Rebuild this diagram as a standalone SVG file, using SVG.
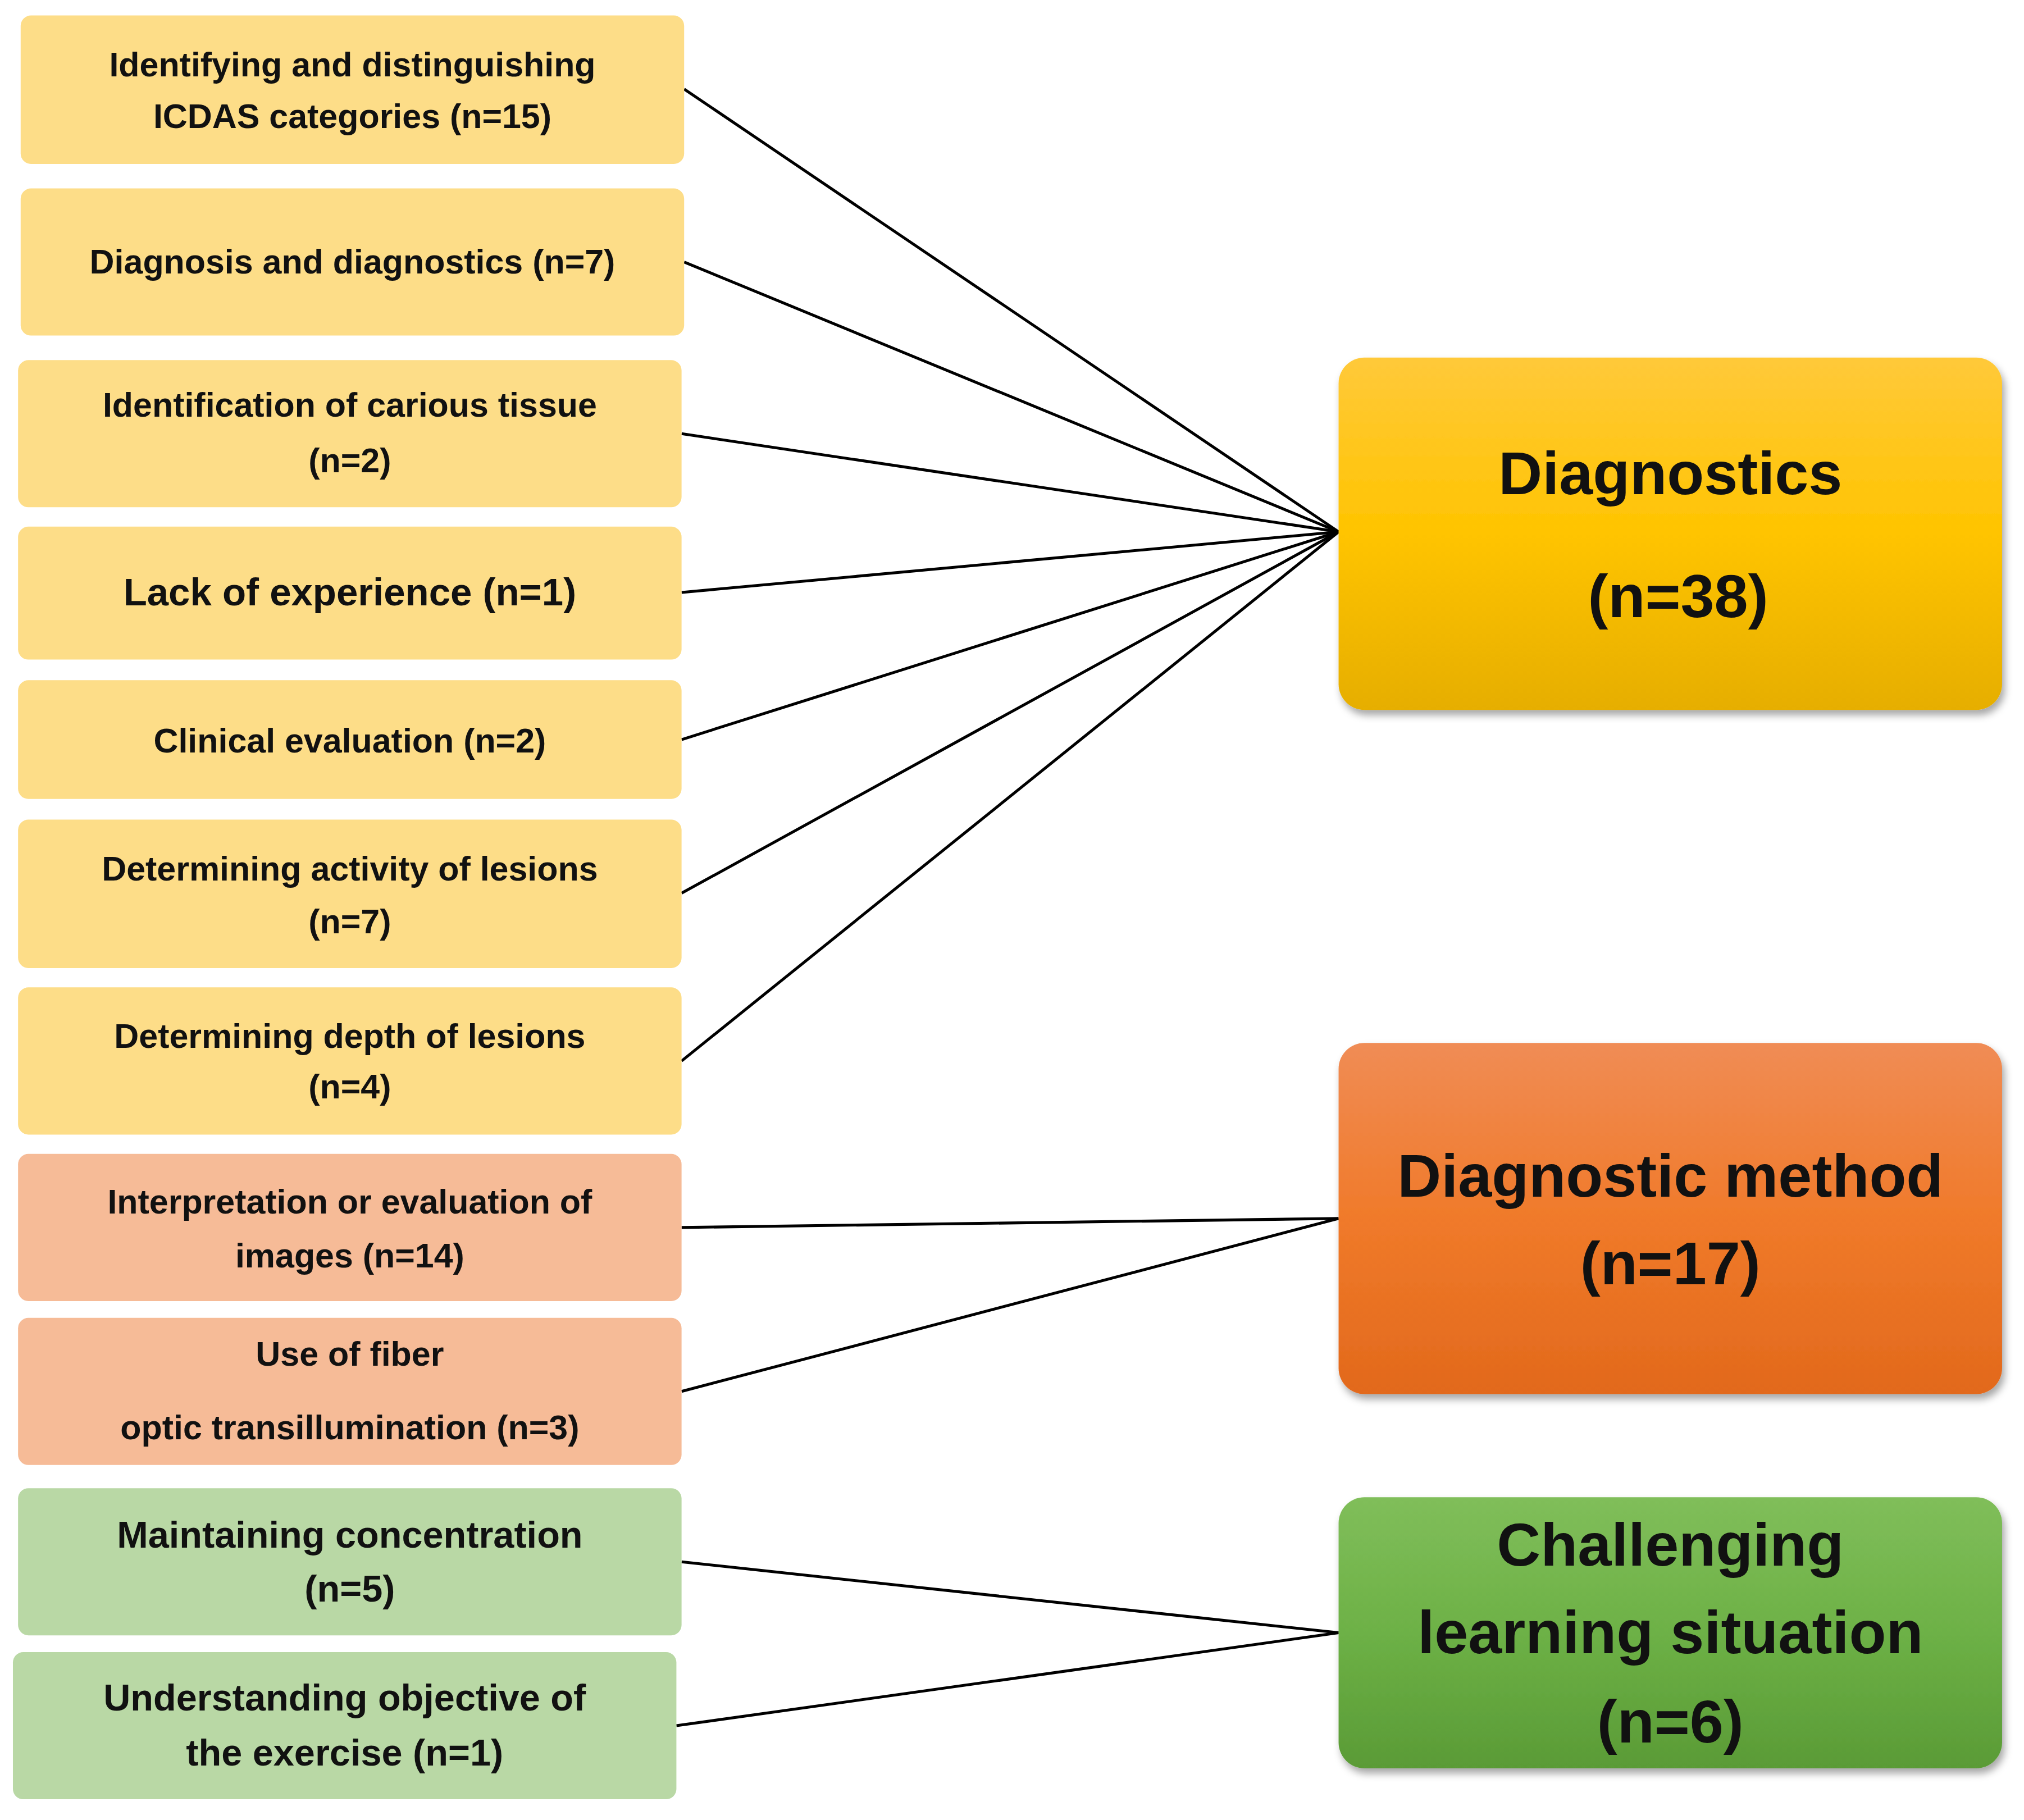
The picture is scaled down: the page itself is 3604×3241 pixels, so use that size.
<svg xmlns="http://www.w3.org/2000/svg" width="3604" height="3241" viewBox="0 0 3604 3241">
<style>
.y{fill:#FDDD88}.s{fill:#F6BB97}.g{fill:#B9D8A5}
.t{font-family:"Liberation Sans",Arial,sans-serif;font-weight:bold;font-size:26.5px;fill:#111;text-anchor:middle}
.b{font-family:"Liberation Sans",Arial,sans-serif;font-weight:bold;font-size:47px;fill:#111;text-anchor:middle}
.c line{stroke:#000;stroke-width:2.2}
</style>
<defs>
<linearGradient id="gy" x1="0" y1="0" x2="0" y2="1"><stop offset="0" stop-color="#FFC93A"/><stop offset="0.5" stop-color="#FFC400"/><stop offset="1" stop-color="#E6AE00"/></linearGradient>
<linearGradient id="go" x1="0" y1="0" x2="0" y2="1"><stop offset="0" stop-color="#F08C55"/><stop offset="0.5" stop-color="#F07A2A"/><stop offset="1" stop-color="#E2691C"/></linearGradient>
<linearGradient id="gg" x1="0" y1="0" x2="0" y2="1"><stop offset="0" stop-color="#80BE5A"/><stop offset="0.5" stop-color="#6DB146"/><stop offset="1" stop-color="#5A9B36"/></linearGradient>
<filter id="sh" x="-10%" y="-10%" width="120%" height="130%"><feDropShadow dx="2" dy="4" stdDeviation="3" flood-opacity="0.35"/></filter>
</defs>
<rect width="3604" height="3241" fill="#fff"/>
<g transform="scale(2.2985)">
<g class="c" id="connectors">
<line x1="530" y1="69" x2="1037" y2="412"/>
<line x1="530" y1="203" x2="1037" y2="412"/>
<line x1="528" y1="336" x2="1037" y2="412"/>
<line x1="528" y1="459" x2="1037" y2="412"/>
<line x1="528" y1="573" x2="1037" y2="412"/>
<line x1="528" y1="692" x2="1037" y2="412"/>
<line x1="528" y1="822" x2="1037" y2="412"/>
<line x1="528" y1="951" x2="1037" y2="944"/>
<line x1="528" y1="1078" x2="1037" y2="944"/>
<line x1="528" y1="1210" x2="1037" y2="1265"/>
<line x1="524" y1="1337" x2="1037" y2="1265"/>
</g>
<g id="n1"><rect class="y" x="16" y="12" width="514" height="115" rx="8"/><text class="t" x="273" y="59">Identifying and distinguishing</text><text class="t" x="273" y="99">ICDAS categories (n=15)</text></g>
<g id="n2"><rect class="y" x="16" y="146" width="514" height="114" rx="8"/><text class="t" x="273" y="212">Diagnosis and diagnostics (n=7)</text></g>
<g id="n3"><rect class="y" x="14" y="279" width="514" height="114" rx="8"/><text class="t" x="271" y="323">Identification of carious tissue</text><text class="t" x="271" y="366">(n=2)</text></g>
<g id="n4"><rect class="y" x="14" y="408" width="514" height="103" rx="8"/><text class="t" x="271" y="469" style="font-size:30px">Lack of experience (n=1)</text></g>
<g id="n5"><rect class="y" x="14" y="527" width="514" height="92" rx="8"/><text class="t" x="271" y="583">Clinical evaluation (n=2)</text></g>
<g id="n6"><rect class="y" x="14" y="635" width="514" height="115" rx="8"/><text class="t" x="271" y="682">Determining activity of lesions</text><text class="t" x="271" y="723">(n=7)</text></g>
<g id="n7"><rect class="y" x="14" y="765" width="514" height="114" rx="8"/><text class="t" x="271" y="812">Determining depth of lesions</text><text class="t" x="271" y="851">(n=4)</text></g>
<g id="n8"><rect class="s" x="14" y="894" width="514" height="114" rx="8"/><text class="t" x="271" y="940">Interpretation or evaluation of</text><text class="t" x="271" y="982">images (n=14)</text></g>
<g id="n9"><rect class="s" x="14" y="1021" width="514" height="114" rx="8"/><text class="t" x="271" y="1058">Use of fiber</text><text class="t" x="271" y="1115">optic transillumination (n=3)</text></g>
<g id="n10"><rect class="g" x="14" y="1153" width="514" height="114" rx="8"/><text class="t" x="271" y="1199" style="font-size:29px">Maintaining concentration</text><text class="t" x="271" y="1241" style="font-size:29px">(n=5)</text></g>
<g id="n11"><rect class="g" x="10" y="1280" width="514" height="114" rx="8"/><text class="t" x="267" y="1325" style="font-size:29px">Understanding objective of</text><text class="t" x="267" y="1368" style="font-size:29px">the exercise  (n=1)</text></g>
<g id="d1"><rect x="1037" y="277" width="514" height="273" rx="20" fill="url(#gy)" filter="url(#sh)"/><text class="b" x="1294" y="383">Diagnostics</text><text class="b" x="1300" y="478">(n=38)</text></g>
<g id="d2"><rect x="1037" y="808" width="514" height="272" rx="20" fill="url(#go)" filter="url(#sh)"/><text class="b" x="1294" y="927">Diagnostic method</text><text class="b" x="1294" y="995">(n=17)</text></g>
<g id="d3"><rect x="1037" y="1160" width="514" height="210" rx="20" fill="url(#gg)" filter="url(#sh)"/><text class="b" x="1294" y="1213">Challenging</text><text class="b" x="1294" y="1281">learning situation</text><text class="b" x="1294" y="1350">(n=6)</text></g>
</g>
</svg>
